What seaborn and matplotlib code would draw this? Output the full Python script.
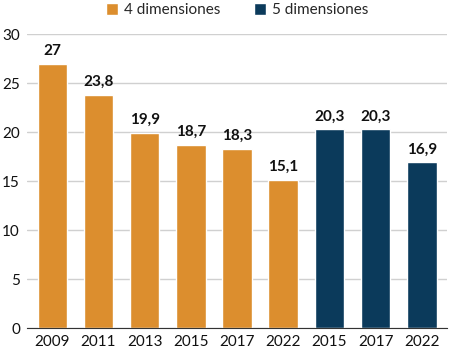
import matplotlib
matplotlib.use("Agg")
import matplotlib.pyplot as plt
import seaborn as sns
import pandas as pd

# data
years = ["2009", "2011", "2013", "2015", "2017", "2022", "2015", "2017", "2022"]
values = [27, 23.8, 19.9, 18.7, 18.3, 15.1, 20.3, 20.3, 16.9]
series = ["4 dimensiones"] * 6 + ["5 dimensiones"] * 3
labels = ["27", "23,8", "19,9", "18,7", "18,3", "15,1", "20,3", "20,3", "16,9"]

df = pd.DataFrame({"slot": [f"{s[0]}-{y}" for s, y in zip(series, years)],
                   "value": values, "serie": series})

sns.set_style("white")
plt.rcParams["font.family"] = ["Lato", "DejaVu Sans"]

fig = plt.figure(figsize=(4.49, 3.54), dpi=100)
ax = fig.add_axes([0.06, 0.0734, 0.936, 0.83])

palette = {"4 dimensiones": "#DC8E2E", "5 dimensiones": "#0B3A5B"}
sns.barplot(data=df, x="slot", y="value", hue="serie", palette=palette,
            dodge=False, width=0.64, ax=ax, saturation=1)

for i, (v, t) in enumerate(zip(values, labels)):
    ax.text(i, v + 0.6, t, ha="center", va="bottom", fontsize=11,
            fontweight="bold", color="#111111")

ax.set_ylim(0, 30)
ax.set_yticks(range(0, 31, 5))
ax.set_xticks(range(len(years)))
ax.set_xticklabels(years)
ax.set_xlim(-0.55, len(years) - 0.45)
ax.yaxis.grid(True, color="#D0D0D0", linewidth=1)
ax.set_axisbelow(True)
for s in ["top", "right", "left"]:
    ax.spines[s].set_visible(False)
ax.spines["bottom"].set_color("#333333")
ax.tick_params(axis="both", length=0, labelsize=11, colors="#111111")
ax.tick_params(axis="y", pad=5)
ax.tick_params(axis="x", pad=5)
ax.set_xlabel("")
ax.set_ylabel("")

handles, lbls = ax.get_legend_handles_labels()
ax.legend(handles, lbls, loc="center", bbox_to_anchor=(0.5, 1.082),
          ncol=2, frameon=False, fontsize=11, handlelength=0.8,
          handleheight=0.8, handletextpad=0.4, columnspacing=2.2,
          borderaxespad=0, borderpad=0)

fig.savefig("out.png", dpi=100)
